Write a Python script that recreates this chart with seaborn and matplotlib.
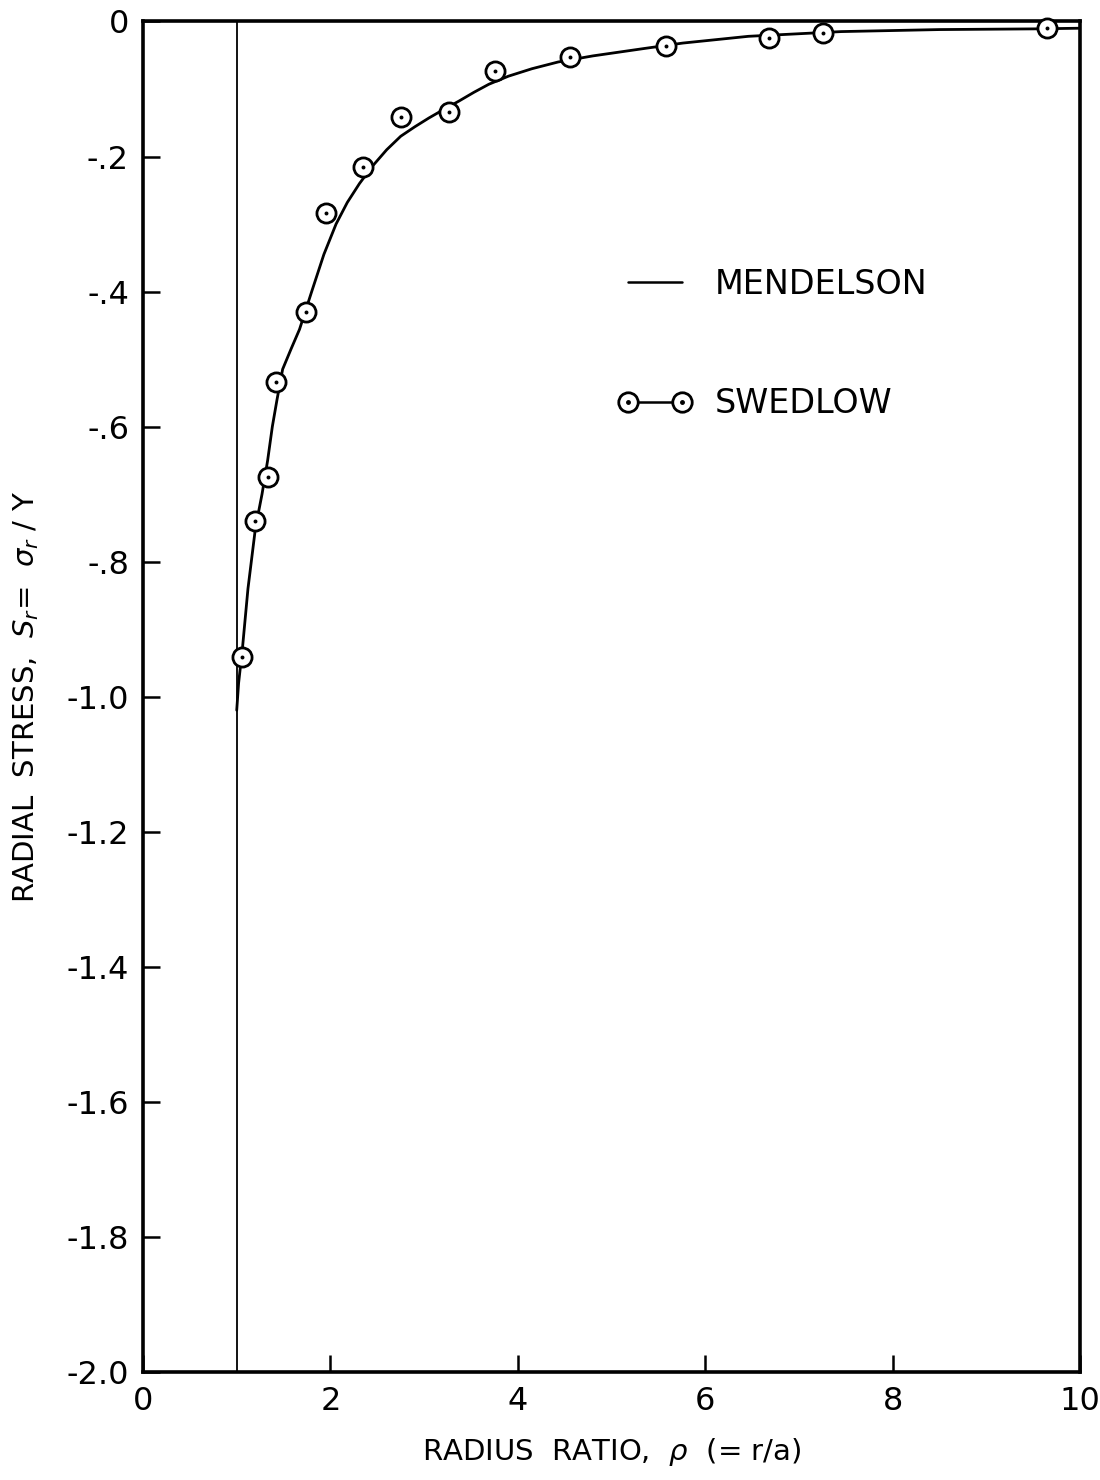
import matplotlib
matplotlib.use("Agg")
import matplotlib.pyplot as plt
import seaborn as sns
from matplotlib.lines import Line2D

# Swedlow (points)
swedlow_x = [1.06, 1.19, 1.33, 1.42, 1.74, 1.95, 2.35, 2.75, 3.26, 3.76, 4.56, 5.58, 6.68, 7.26, 9.65]
swedlow_y = [-0.941, -0.740, -0.675, -0.534, -0.431, -0.284, -0.215, -0.141, -0.134, -0.074,
             -0.053, -0.037, -0.025, -0.017, -0.010]

# Mendelson (curve)
mendelson_x = [1.00, 1.02, 1.06, 1.12, 1.20, 1.27, 1.33, 1.38, 1.43, 1.49, 1.58, 1.67, 1.80,
               1.93, 2.06, 2.18, 2.31, 2.45, 2.60, 2.75, 2.90, 3.05, 3.20, 3.37, 3.53, 3.69,
               3.90, 4.15, 4.43, 4.80, 5.35, 5.76, 6.46, 7.45, 8.50, 9.50, 10.0]
mendelson_y = [-1.02, -0.98, -0.93, -0.84, -0.75, -0.70, -0.65, -0.60, -0.56, -0.515, -0.485,
               -0.456, -0.40, -0.345, -0.300, -0.268, -0.240, -0.214, -0.190, -0.170, -0.156,
               -0.143, -0.131, -0.118, -0.105, -0.093, -0.081, -0.070, -0.060, -0.051, -0.040,
               -0.032, -0.022, -0.015, -0.012, -0.011, -0.010]

bore_radius = 1.0

xticks = [0, 2, 4, 6, 8, 10]
yticks = [0, -0.2, -0.4, -0.6, -0.8, -1.0, -1.2, -1.4, -1.6, -1.8, -2.0]
ytick_labels = ["0", "-.2", "-.4", "-.6", "-.8", "-1.0", "-1.2", "-1.4", "-1.6", "-1.8", "-2.0"]

sns.set_style("ticks")
plt.rcParams["font.family"] = ["DejaVu Sans"]
plt.rcParams["mathtext.fontset"] = "dejavusans"
plt.rcParams["text.color"] = "black"
plt.rcParams["axes.labelcolor"] = "black"

fig = plt.figure(figsize=(11, 14.8), dpi=100)
ax = fig.add_axes([0.130, 0.073, 0.852, 0.9125])

ax.axvline(bore_radius, color="black", lw=1.3)
sns.lineplot(x=mendelson_x, y=mendelson_y, ax=ax, color="black", lw=2.0, sort=False, legend=False)
sns.scatterplot(x=swedlow_x, y=swedlow_y, ax=ax, marker="o", s=190, facecolor="white",
                edgecolor="black", linewidth=2.0, zorder=3, clip_on=False, legend=False)
sns.scatterplot(x=swedlow_x, y=swedlow_y, ax=ax, marker="o", s=8, color="black",
                linewidth=0, zorder=4, clip_on=False, legend=False)

ax.set_xlim(0, 10)
ax.set_ylim(-2.0, 0)
ax.set_xticks(xticks)
ax.set_xticklabels([str(t) for t in xticks])
ax.set_yticks(yticks)
ax.set_yticklabels(ytick_labels)
ax.tick_params(direction="in", length=12, width=1.8, labelsize=23, colors="black", pad=10)

for s in ax.spines.values():
    s.set_linewidth(2.6)
    s.set_color("black")

ax.set_xlabel(r"RADIUS  RATIO,  $\rho$  (= r/a)", fontsize=21, labelpad=14)
ax.set_ylabel(r"RADIAL  STRESS,  $S_r$=  $\sigma_r$ / Y", fontsize=21, labelpad=18)

# legend
h_line = Line2D([], [], color="black", lw=1.8)
h_circ = Line2D([], [], color="black", lw=1.8, marker="o", markersize=14,
                markerfacecolor="white", markeredgecolor="black", markeredgewidth=2.0)
h_dot = Line2D([], [], ls="none", marker="o", markersize=2.5, color="black")
ax.legend(handles=[h_line, (h_circ, h_dot)], labels=["MENDELSON", "SWEDLOW"],
          loc="upper left", bbox_to_anchor=(0.475, 0.84), frameon=False, fontsize=24,
          numpoints=2, handlelength=2.2, handletextpad=0.7, labelspacing=2.6)

fig.savefig("out.png", dpi=100)
